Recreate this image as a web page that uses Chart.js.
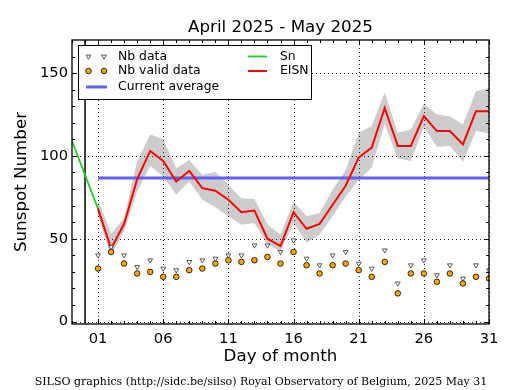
<!DOCTYPE html>
<html>
<head>
<meta charset="utf-8">
<script src="https://cdn.jsdelivr.net/npm/chart.js@4.4.1/dist/chart.umd.min.js"></script>
<style>
html,body{margin:0;padding:0;background:#fff;}
#wrap{width:515px;height:390px;position:relative;}
</style>
</head>
<body>
<div id="wrap"><canvas id="c" width="515" height="390"></canvas></div>
<script>
// ---- data ----
const days = [1,2,3,4,5,6,7,8,9,10,11,12,13,14,15,16,17,18,19,20,21,22,23,24,25,26,27,28,29,30,31];
const nbData = [40,45,40,33,37,32,31,36,37,38,40,40,46,46,42,49,38,34,40,42,35,32,43,23,34,37,28,34,26,34,31];
const nbValid = [32,42,35,29,30,27,27,31,32,35,37,36,37,39,35,42,34,29,34,35,31,27,36,17,29,29,24,29,23,27,26];
const eisn = [68,44,59,86,103,97,84.5,91,80.5,79,73.5,66,67,50,45.5,66,56,59,70.5,82,99,105,129,106,106,124,115,115,107,127,127];
const eisnUpper = [73.5,53,62.5,97,113,110,92.5,97.5,88.5,90.5,82.5,74.5,74,58.5,52.5,72.5,63.5,65.5,79.5,91.5,114,118,138.5,114,116,131.5,125,124,119,139,141];
const eisnLower = [63.5,40,54.5,78.5,94,87.5,76.5,84.5,73.5,69,63.5,58.5,59.5,46.5,42.5,59.5,47.5,52.5,63.5,75.5,85.5,93,119.5,98.5,97,117.5,105.5,106,96.5,115,113.5];
const snDays = [-1,0,1];
const snValues = [109,88.5,68];
const currentAverage = 86.6;
const avgDays = [1,31];
const monthBoundary = 0;
const xTickValues = [1,6,11,16,21,26,31];
const xTickLabels = ['01','06','11','16','21','26','31'];
const yTickValues = [0,50,100,150];
const yTickLabels = ['0','50','100','150'];
const xMin = -1, xMax = 31, yMin = -1.5, yMax = 170;
const titleText = 'April 2025 - May 2025';
const footerText = 'SILSO graphics (http://sidc.be/silso) Royal Observatory of Belgium, 2025 May 31';

const pts = (xs, ys) => xs.map((x,i)=>({x:x, y:ys[i]}));
const xMinor = []; for (let v = xMin; v <= xMax; v++) xMinor.push(v);
const yMinor = []; for (let v = 0; v <= 160; v += 10) yMinor.push(v);

const SANS = "'DejaVu Sans', sans-serif";
const GREEN = '#22cc22', RED = '#ff0000', BLUE = 'rgb(96,96,255)', BAND = '#cccccc';

const decor = {
  id: 'decor',
  afterDatasetDraw(chart, args) {
    if (args.index !== 5) return;
    const {ctx, chartArea: a, scales: {x, y}} = chart;
    ctx.save();
    ctx.strokeStyle = 'rgba(0,0,0,0.85)';
    ctx.lineWidth = 1;
    ctx.setLineDash([1,3]);
    xTickValues.forEach(v => { const px = Math.round(x.getPixelForValue(v)) + 0.5; ctx.beginPath(); ctx.moveTo(px, a.top); ctx.lineTo(px, a.bottom); ctx.stroke(); });
    yTickValues.forEach(v => { const py = Math.round(y.getPixelForValue(v)) + 0.5; ctx.beginPath(); ctx.moveTo(a.left, py); ctx.lineTo(a.right, py); ctx.stroke(); });
    ctx.restore();
  },
  afterDraw(chart) {
    const {ctx, chartArea: a, scales: {x, y}} = chart;
    ctx.save();
    // tick marks (inward, all four sides)
    ctx.strokeStyle = '#000'; ctx.lineWidth = 1;
    xMinor.forEach(v => {
      const px = Math.round(x.getPixelForValue(v)) + 0.5;
      const len = xTickValues.includes(v) ? 5 : 3;
      ctx.beginPath(); ctx.moveTo(px, a.bottom); ctx.lineTo(px, a.bottom - len);
      ctx.moveTo(px, a.top); ctx.lineTo(px, a.top + len); ctx.stroke();
    });
    yMinor.forEach(v => {
      const py = Math.round(y.getPixelForValue(v)) + 0.5;
      const len = yTickValues.includes(v) ? 5 : 3;
      ctx.beginPath(); ctx.moveTo(a.left, py); ctx.lineTo(a.left + len, py);
      ctx.moveTo(a.right, py); ctx.lineTo(a.right - len, py); ctx.stroke();
    });
    // frame
    ctx.lineWidth = 1.3;
    ctx.strokeRect(a.left, a.top, a.right - a.left, a.bottom - a.top);
    // title
    ctx.fillStyle = '#000';
    ctx.font = '16.7px ' + SANS;
    ctx.textAlign = 'center'; ctx.textBaseline = 'alphabetic';
    ctx.fillText(titleText, (a.left + a.right) / 2, 32);
    // footer
    ctx.font = "11px 'DejaVu Serif', serif";
    ctx.fillText(footerText, 261, 385);
    // legend
    const lx = 78.5, ly = 45.5, lw = 233, lh = 54;
    ctx.fillStyle = '#fff'; ctx.fillRect(lx, ly, lw, lh);
    ctx.strokeStyle = '#000'; ctx.lineWidth = 1; ctx.strokeRect(lx, ly, lw, lh);
    const r1 = 56.5, r2 = 71, r3 = 87;
    const H = Chart.helpers;
    ctx.fillStyle = '#fff'; ctx.strokeStyle = '#333'; ctx.lineWidth = 0.8;
    [88.5, 104].forEach(mx => H.drawPoint(ctx, {pointStyle:'triangle', rotation:180, radius:2.8, borderWidth:0.8}, mx, r1));
    ctx.fillStyle = '#ffa500'; ctx.strokeStyle = '#000';
    [88.5, 104].forEach(mx => H.drawPoint(ctx, {pointStyle:'circle', rotation:0, radius:2.8, borderWidth:0.8}, mx, r2));
    ctx.lineWidth = 3; ctx.strokeStyle = BLUE;
    ctx.beginPath(); ctx.moveTo(86, r3); ctx.lineTo(107, r3); ctx.stroke();
    ctx.lineWidth = 1.8; ctx.strokeStyle = GREEN;
    ctx.beginPath(); ctx.moveTo(248, r1); ctx.lineTo(267, r1); ctx.stroke();
    ctx.lineWidth = 2; ctx.strokeStyle = RED;
    ctx.beginPath(); ctx.moveTo(248, r2); ctx.lineTo(267, r2); ctx.stroke();
    ctx.fillStyle = '#000'; ctx.font = '12.4px ' + SANS;
    ctx.textAlign = 'left'; ctx.textBaseline = 'middle';
    ctx.fillText('Nb data', 118, r1);
    ctx.fillText('Nb valid data', 118, r2);
    ctx.fillText('Current average', 118, r3);
    ctx.fillText('Sn', 280, r1);
    ctx.fillText('EISN', 280, r2);
    ctx.restore();
  }
};

new Chart(document.getElementById('c'), {
  type: 'line',
  data: {
    datasets: [
      { label:'Nb data', data: pts(days, nbData), showLine:false, pointStyle:'triangle', rotation:180, pointRadius:2.8, pointBorderWidth:0.8, pointBackgroundColor:'#fff', pointBorderColor:'#333', order:0 },
      { label:'Nb valid data', data: pts(days, nbValid), showLine:false, pointStyle:'circle', pointRadius:2.8, pointBorderWidth:0.8, pointBackgroundColor:'#ffa500', pointBorderColor:'#000', order:1 },
      { label:'EISN', data: pts(days, eisn), borderColor:RED, borderWidth:2, pointRadius:0, tension:0, order:2 },
      { label:'Sn', data: pts(snDays, snValues), borderColor:GREEN, borderWidth:1.8, pointRadius:0, order:3 },
      { label:'Current average', data: pts(avgDays, [currentAverage, currentAverage]), borderColor:BLUE, borderWidth:3, borderCapStyle:'butt', pointRadius:0, order:4 },
      { label:'upper', data: pts(days, eisnUpper), borderWidth:0, borderColor:'rgba(0,0,0,0)', pointRadius:0, backgroundColor:BAND, fill:{target:6}, order:5 },
      { label:'lower', data: pts(days, eisnLower), borderWidth:0, borderColor:'rgba(0,0,0,0)', pointRadius:0, fill:false, order:6 },
      { label:'boundary', data: pts([monthBoundary, monthBoundary], [yMin, yMax]), borderColor:'#000', borderWidth:1.5, pointRadius:0, order:7 }
    ]
  },
  options: {
    responsive: false,
    animation: false,
    devicePixelRatio: 1,
    layout: { padding: { left:0, right:26, top:40, bottom:0 } },
    plugins: { legend:{display:false}, tooltip:{enabled:false}, title:{display:false} },
    scales: {
      x: {
        type:'linear', min:xMin, max:xMax,
        afterBuildTicks: ax => { ax.ticks = xMinor.map(v => ({value:v})); },
        afterFit: ax => { ax.height = 66; },
        grid: { display:false, drawTicks:false },
        border: { display:false },
        ticks: { autoSkip:false, maxRotation:0, minRotation:0, padding:6, color:'#000', font:{family:SANS, size:14.7},
          callback: v => { const i = xTickValues.indexOf(v); return i >= 0 ? xTickLabels[i] : ''; } },
        title: { display:true, text:'Day of month', color:'#000', font:{family:SANS, size:16.7}, padding:{top:0, bottom:23} }
      },
      y: {
        type:'linear', min:yMin, max:yMax,
        afterBuildTicks: ax => { ax.ticks = yMinor.map(v => ({value:v})); },
        afterFit: ax => { ax.width = 72; },
        grid: { display:false, drawTicks:false },
        border: { display:false },
        ticks: { autoSkip:false, padding:4, color:'#000', font:{family:SANS, size:14.7},
          callback: v => { const i = yTickValues.indexOf(v); return i >= 0 ? yTickLabels[i] : ''; } },
        title: { display:true, text:'Sunspot Number', color:'#000', font:{family:SANS, size:16.7}, padding:{top:12, bottom:0} }
      }
    }
  },
  plugins: [decor]
});
</script>
</body>
</html>
